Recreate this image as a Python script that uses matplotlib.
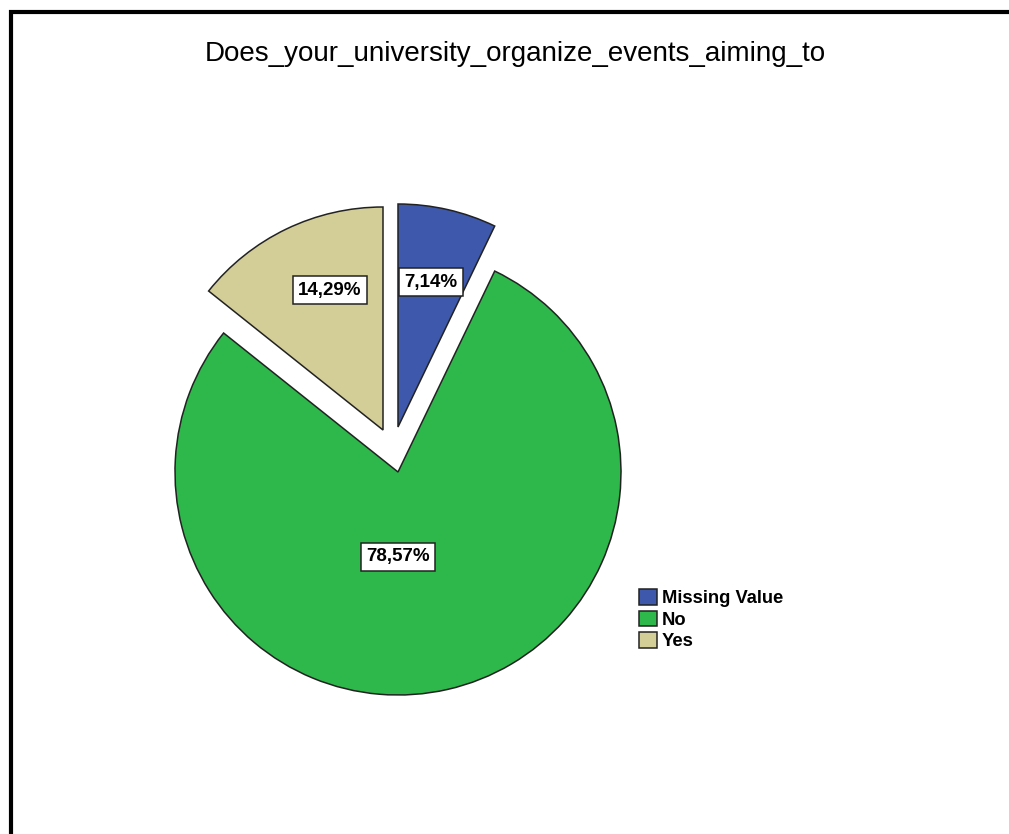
import matplotlib.pyplot as plt
from matplotlib.lines import Line2D

# Survey answers (percent of respondents)
categories = ['Missing Value', 'No', 'Yes']
percents = [7.14, 78.57, 14.29]
colors = ['#3e58ac', '#2eb84b', '#d3ce97']
title = 'Does_your_university_organize_events_aiming_to'

W, H = 1009, 834
fig = plt.figure(figsize=(W / 100, H / 100), dpi=100)
ax = fig.add_axes([0, 0, 1, 1])

# pie drawn in pixel units, y measured upward
cx, cy, r = 398, H - 472, 223
wedges, texts, autotexts = ax.pie(
    percents, colors=colors, startangle=90, counterclock=False,
    center=(cx, cy), radius=r, frame=True,
    autopct=lambda p: '', wedgeprops=dict(edgecolor='#222222', linewidth=1.1))
ax.set_xlim(0, W)
ax.set_ylim(0, H)
ax.set_aspect('equal')
ax.axis('off')

# pulled-out slices
shifts = {0: (0, 45), 2: (-15, 42)}
for i, (dx, dy) in shifts.items():
    wedges[i].set_center((cx + dx, cy + dy))

# value labels in boxes
label_pos = [(431, 282), (398, 557), (330, 290)]
for t, v, (x, y) in zip(autotexts, percents, label_pos):
    t.set_text(f'{v:.2f}'.replace('.', ',') + '%')
    t.set_position((x, H - y))
    t.set_fontsize(13.5)
    t.set_fontweight('bold')
    t.set_fontfamily('Liberation Sans')
    t.set_color('black')
    t.set_bbox(dict(boxstyle='square,pad=0.28', fc='white', ec='#222222', lw=1.1))

ax.text(515, H - 54, title, ha='center', va='center', fontsize=20,
        fontfamily='Liberation Sans', color='black')

leg = ax.legend(wedges, categories, loc='upper left',
                bbox_to_anchor=(630 / W, 1 - 580 / H), bbox_transform=fig.transFigure,
                frameon=False, borderpad=0, handlelength=0.95, handleheight=0.95,
                handletextpad=0.3, labelspacing=0.18,
                prop=dict(family='Liberation Sans', weight='bold', size=13.2))

# outer frame
ax.add_line(Line2D([10.5, 10.5, W + 5], [-5, H - 12, H - 12], color='black', lw=3, solid_joinstyle='miter'))

fig.savefig('out.png', dpi=100)
